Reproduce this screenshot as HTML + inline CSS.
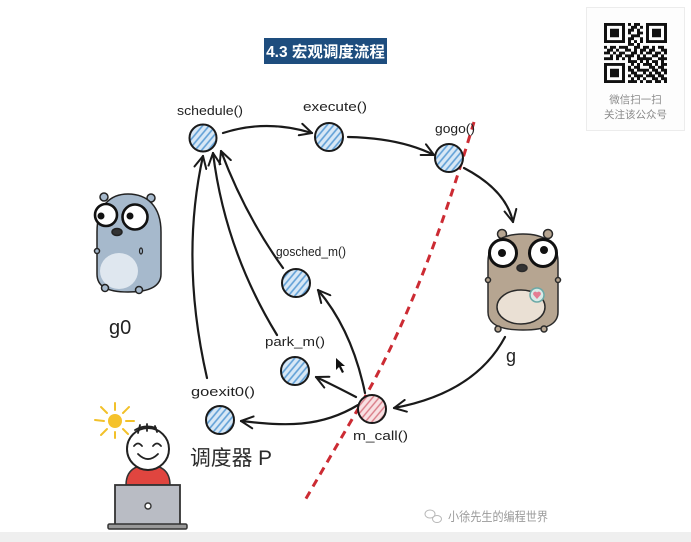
<!DOCTYPE html>
<html>
<head>
<meta charset="utf-8">
<style>
  html,body{margin:0;padding:0;background:#fff;}
  body{width:691px;height:542px;overflow:hidden;position:relative;}
  svg{position:absolute;left:0;top:0;}
  .lbl{font-family:"Liberation Sans","DejaVu Sans",sans-serif;font-size:12.5px;fill:#222;}
</style>
</head>
<body>
<svg width="691" height="542" viewBox="0 0 691 542" xmlns="http://www.w3.org/2000/svg">
  <defs>
    <pattern id="hb" patternUnits="userSpaceOnUse" width="5" height="5" patternTransform="rotate(40)">
      <rect width="5" height="5" fill="#d8e8f6"/>
      <line x1="1" y1="0" x2="1" y2="5" stroke="#5f9fd6" stroke-width="1.6"/>
    </pattern>
    <pattern id="hr" patternUnits="userSpaceOnUse" width="5" height="5" patternTransform="rotate(40)">
      <rect width="5" height="5" fill="#f8e1e3"/>
      <line x1="1" y1="0" x2="1" y2="5" stroke="#d97b86" stroke-width="1.4"/>
    </pattern>
    <marker id="ah" viewBox="0 0 14 14" refX="13" refY="7" markerWidth="14" markerHeight="14" markerUnits="userSpaceOnUse" orient="auto">
      <path d="M1,1 L13,7 L1,13" fill="none" stroke="#1a1a1a" stroke-width="2" stroke-linecap="round" stroke-linejoin="round"/>
    </marker>
  </defs>

  <!-- bottom band -->
  <rect x="0" y="532" width="691" height="10" fill="#efefef"/>

  <!-- title -->
  <rect x="264" y="38" width="123" height="26" fill="#1e4d7e"/>
  <text x="325.5" y="57" text-anchor="middle" font-family="Liberation Sans, Noto Sans CJK SC, sans-serif" font-size="15.5" font-weight="bold" fill="#fff">4.3 宏观调度流程</text>

  <!-- QR card -->
  <rect x="586.5" y="7.5" width="98" height="123" fill="#fdfdfd" stroke="#ececec" stroke-width="1"/>
  <svg x="604" y="23" width="63" height="60" viewBox="0 0 21 21" preserveAspectRatio="none">
    <path fill="#111" d="
M0,0h7v1h-7z M8,0h1v1h-1z M10,0h2v1h-2z M14,0h7v1h-7z
M0,1h1v1h-1z M6,1h1v1h-1z M9,1h2v1h-2z M12,1h1v1h-1z M14,1h1v1h-1z M20,1h1v1h-1z
M0,2h1v1h-1z M2,2h3v1h-3z M6,2h1v1h-1z M8,2h2v1h-2z M11,2h1v1h-1z M14,2h1v1h-1z M16,2h3v1h-3z M20,2h1v1h-1z
M0,3h1v1h-1z M2,3h3v1h-3z M6,3h1v1h-1z M8,3h1v1h-1z M11,3h2v1h-2z M14,3h1v1h-1z M16,3h3v1h-3z M20,3h1v1h-1z
M0,4h1v1h-1z M2,4h3v1h-3z M6,4h1v1h-1z M9,4h3v1h-3z M14,4h1v1h-1z M16,4h3v1h-3z M20,4h1v1h-1z
M0,5h1v1h-1z M6,5h1v1h-1z M8,5h2v1h-2z M12,5h1v1h-1z M14,5h1v1h-1z M20,5h1v1h-1z
M0,6h7v1h-7z M8,6h1v1h-1z M10,6h1v1h-1z M12,6h1v1h-1z M14,6h7v1h-7z
M8,7h2v1h-2z M11,7h1v1h-1z
M0,8h1v1h-1z M2,8h2v1h-2z M5,8h3v1h-3z M10,8h2v1h-2z M13,8h2v1h-2z M16,8h1v1h-1z M18,8h2v1h-2z
M1,9h2v1h-2z M4,9h1v1h-1z M7,9h2v1h-2z M10,9h1v1h-1z M12,9h2v1h-2z M15,9h2v1h-2z M19,9h2v1h-2z
M0,10h2v1h-2z M3,10h1v1h-1z M5,10h2v1h-2z M9,10h2v1h-2z M12,10h1v1h-1z M14,10h2v1h-2z M17,10h2v1h-2z M20,10h1v1h-1z
M2,11h1v1h-1z M4,11h2v1h-2z M7,11h3v1h-3z M11,11h1v1h-1z M13,11h1v1h-1z M16,11h2v1h-2z M19,11h1v1h-1z
M0,12h3v1h-3z M4,12h1v1h-1z M6,12h1v1h-1z M8,12h1v1h-1z M11,12h5v1h-5z M18,12h3v1h-3z
M8,13h3v1h-3z M12,13h1v1h-1z M14,13h1v1h-1z M16,13h2v1h-2z M19,13h1v1h-1z
M0,14h7v1h-7z M9,14h1v1h-1z M11,14h1v1h-1z M13,14h3v1h-3z M17,14h1v1h-1z M19,14h2v1h-2z
M0,15h1v1h-1z M6,15h1v1h-1z M8,15h1v1h-1z M10,15h2v1h-2z M15,15h2v1h-2z M18,15h2v1h-2z
M0,16h1v1h-1z M2,16h3v1h-3z M6,16h1v1h-1z M8,16h2v1h-2z M11,16h4v1h-4z M16,16h2v1h-2z M19,16h2v1h-2z
M0,17h1v1h-1z M2,17h3v1h-3z M6,17h1v1h-1z M9,17h2v1h-2z M13,17h1v1h-1z M15,17h1v1h-1z M17,17h2v1h-2z M20,17h1v1h-1z
M0,18h1v1h-1z M2,18h3v1h-3z M6,18h1v1h-1z M8,18h1v1h-1z M10,18h3v1h-3z M14,18h3v1h-3z M18,18h2v1h-2z
M0,19h1v1h-1z M6,19h1v1h-1z M9,19h1v1h-1z M11,19h1v1h-1z M13,19h1v1h-1z M16,19h2v1h-2z M19,19h2v1h-2z
M0,20h7v1h-7z M8,20h3v1h-3z M12,20h1v1h-1z M14,20h2v1h-2z M17,20h2v1h-2z M20,20h1v1h-1z"/>
  </svg>
  <text x="635.5" y="103" text-anchor="middle" font-family="Liberation Sans, Noto Sans CJK SC, sans-serif" font-size="10.5" fill="#8a8a8a">微信扫一扫</text>
  <text x="635.5" y="118" text-anchor="middle" font-family="Liberation Sans, Noto Sans CJK SC, sans-serif" font-size="10.5" fill="#8a8a8a">关注该公众号</text>

  <!-- red dashed divider -->
  <path d="M474,122 C455,185 420,300 365,397 L304,502" fill="none" stroke="#cc2b33" stroke-width="3" stroke-dasharray="8,6"/>

  <!-- connectors -->
  <g fill="none" stroke="#1a1a1a" stroke-width="2.2" stroke-linecap="round" marker-end="url(#ah)">
    <path d="M223,133 Q266,119 312,133"/>
    <path d="M348,137 Q400,138 434,155"/>
    <path d="M464,168 Q506,190 513,222"/>
    <path d="M505,337 Q475,393 394,408"/>
    <path d="M358,405 C320,428 285,426 241,421"/>
    <path d="M356,397 Q335,386 316,377"/>
    <path d="M365,393 Q352,330 318,290"/>
    <path d="M283,268 Q245,215 221,151"/>
    <path d="M277,335 Q225,250 213,153"/>
    <path d="M207,378 Q180,260 203,156"/>
  </g>

  <!-- nodes -->
  <g stroke="#1a1a1a" stroke-width="2">
    <circle cx="203" cy="138" r="13.5" fill="url(#hb)"/>
    <circle cx="329" cy="137" r="14" fill="url(#hb)"/>
    <circle cx="449" cy="158" r="14" fill="url(#hb)"/>
    <circle cx="296" cy="283" r="14" fill="url(#hb)"/>
    <circle cx="295" cy="371" r="14" fill="url(#hb)"/>
    <circle cx="220" cy="420" r="14" fill="url(#hb)"/>
    <circle cx="372" cy="409" r="14" fill="url(#hr)"/>
  </g>

  <!-- labels -->
  <text class="lbl" x="177" y="115" textLength="66" lengthAdjust="spacingAndGlyphs">schedule()</text>
  <text class="lbl" x="303" y="111" textLength="64" lengthAdjust="spacingAndGlyphs">execute()</text>
  <text class="lbl" x="435" y="133" textLength="40" lengthAdjust="spacingAndGlyphs">gogo()</text>
  <text class="lbl" x="276" y="256" textLength="70" lengthAdjust="spacingAndGlyphs">gosched_m()</text>
  <text class="lbl" x="265" y="346" textLength="60" lengthAdjust="spacingAndGlyphs">park_m()</text>
  <text class="lbl" x="191" y="396" textLength="64" lengthAdjust="spacingAndGlyphs">goexit0()</text>
  <text class="lbl" x="353" y="440" textLength="55" lengthAdjust="spacingAndGlyphs">m_call()</text>
  <text x="109" y="334" font-family="Liberation Sans, sans-serif" font-size="20" fill="#222">g0</text>
  <text x="506" y="362" font-family="Liberation Sans, sans-serif" font-size="18" fill="#222">g</text>
  <text x="190" y="465" font-family="Liberation Sans, Noto Sans CJK SC, sans-serif" font-size="21" fill="#2a2a2a" textLength="82" lengthAdjust="spacingAndGlyphs">调度器 P</text>

  <!-- cursor -->
  <path d="M336,358 L336,370 L339,367 L342,373 L344,372 L341,366 L345,366 Z" fill="#111"/>

  <!-- blue gopher g0 -->
  <g stroke="#222" stroke-width="1.5">
    <circle cx="104" cy="197" r="4" fill="#a6b9cc"/>
    <circle cx="151" cy="198" r="4" fill="#a6b9cc"/>
    <path d="M97,232 C97,205 111,194 128,194 C147,194 161,206 161,232 L161,274 C161,286 150,292 128,292 C106,292 97,286 97,274 Z" fill="#a6b9cc"/>
    <ellipse cx="119" cy="271" rx="19" ry="18" fill="#dfe7ef" stroke="none"/>
    <circle cx="105" cy="288" r="3.5" fill="#a6b9cc"/>
    <circle cx="139" cy="290" r="3.5" fill="#a6b9cc"/>
    <circle cx="97" cy="251" r="2.5" fill="#a6b9cc"/>
    <circle cx="106" cy="215" r="11" fill="#fff" stroke="#111" stroke-width="2.6"/>
    <circle cx="135" cy="217" r="12.5" fill="#fff" stroke="#111" stroke-width="2.6"/>
    <circle cx="101" cy="216" r="3.5" fill="#111" stroke="none"/>
    <circle cx="130" cy="216" r="3.5" fill="#111" stroke="none"/>
    <ellipse cx="117" cy="232" rx="5" ry="3.5" fill="#333"/>
    <ellipse cx="141" cy="251" rx="1.5" ry="3" fill="none" stroke-width="1.2"/>
  </g>

  <!-- brown gopher g -->
  <g stroke="#2a2a2a" stroke-width="1.5">
    <circle cx="502" cy="234" r="4.5" fill="#b6a591"/>
    <circle cx="548" cy="234" r="4.5" fill="#b6a591"/>
    <path d="M488,262 C488,242 503,234 523,234 C543,234 558,242 558,262 L558,312 C558,324 547,330 523,330 C499,330 488,324 488,312 Z" fill="#b6a591"/>
    <ellipse cx="521" cy="307" rx="24" ry="17" fill="#eae0d4"/>
    <circle cx="498" cy="329" r="3" fill="#b6a591"/>
    <circle cx="544" cy="329" r="3" fill="#b6a591"/>
    <circle cx="488" cy="280" r="2.5" fill="#b6a591"/>
    <circle cx="558" cy="280" r="2.5" fill="#b6a591"/>
    <circle cx="503" cy="253" r="13.5" fill="#fff" stroke="#111" stroke-width="3"/>
    <circle cx="543" cy="253" r="13.5" fill="#fff" stroke="#111" stroke-width="3"/>
    <circle cx="502" cy="253" r="4" fill="#111" stroke="none"/>
    <circle cx="544" cy="250" r="4" fill="#111" stroke="none"/>
    <ellipse cx="522" cy="268" rx="5" ry="3.5" fill="#333"/>
    <circle cx="537" cy="295" r="7" fill="#d9ebe8" stroke="#6aa9a7" stroke-width="1.5"/>
    <path d="M537,299 L533.5,295 A2,2 0 0 1 537,292.5 A2,2 0 0 1 540.5,295 Z" fill="#e57d93" stroke="none"/>
  </g>

  <!-- person -->
  <g>
    <g stroke="#f2c12a" stroke-width="2" stroke-linecap="round">
      <line x1="115" y1="410" x2="115" y2="403"/>
      <line x1="115" y1="432" x2="115" y2="438"/>
      <line x1="104" y1="421" x2="95" y2="420"/>
      <line x1="126" y1="421" x2="134" y2="421"/>
      <line x1="107" y1="413" x2="101" y2="407"/>
      <line x1="123" y1="413" x2="129" y2="407"/>
      <line x1="107" y1="429" x2="101" y2="435"/>
      <line x1="123" y1="429" x2="128" y2="434"/>
    </g>
    <circle cx="115" cy="421" r="7" fill="#f5c22b"/>
    <path d="M126,485 C126,470 136,465 148,465 C160,465 170,470 170,485 Z" fill="#e0453f" stroke="#333" stroke-width="1.5"/>
    <circle cx="148" cy="449" r="21" fill="#fff" stroke="#222" stroke-width="2"/>
    <g fill="none" stroke="#222" stroke-width="1.8" stroke-linecap="round">
      <path d="M135,430 Q145,424 156,428"/>
      <path d="M140,425 L138,433"/>
      <path d="M147,424 L147,431"/>
      <path d="M155,426 L157,432"/>
      <path d="M134,446 Q138,441 142,446"/>
      <path d="M153,446 Q157,441 161,446"/>
      <path d="M138,454 Q148,464 158,454"/>
    </g>
    <rect x="115" y="485" width="65" height="40" fill="#b9bcc4" stroke="#333" stroke-width="1.8"/>
    <circle cx="148" cy="506" r="3" fill="#fff" stroke="#333" stroke-width="1.4"/>
    <rect x="108" y="524" width="79" height="5" rx="1.5" fill="#999" stroke="#333" stroke-width="1.5"/>
  </g>

  <!-- watermark -->
  <g fill="none" stroke="#b8b8b8" stroke-width="1">
    <ellipse cx="430" cy="514" rx="5" ry="4"/>
    <ellipse cx="437" cy="519" rx="4.5" ry="3.5"/>
  </g>
  <text x="448" y="521" font-family="Liberation Sans, Noto Sans CJK SC, sans-serif" font-size="12.5" fill="#9a9a9a" textLength="100" lengthAdjust="spacingAndGlyphs">小徐先生的编程世界</text>
</svg>
</body>
</html>
